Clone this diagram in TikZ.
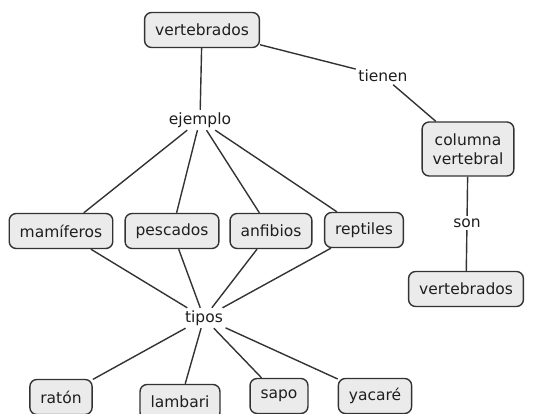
\documentclass[tikz,border=0pt]{standalone}
\usepackage{fontspec}
\setmainfont{DejaVu Sans}
\usetikzlibrary{positioning}
\definecolor{boxfill}{HTML}{EBEBEB}
\definecolor{boxline}{HTML}{333333}
\definecolor{inkgray}{HTML}{1E1E1E}
\tikzset{concept/.style={draw=boxline, fill=boxfill, rounded corners=7pt,
    line width=1.4pt, inner xsep=10.5pt, minimum height=35pt, text=inkgray}}
\tikzset{linkword/.style={inner sep=2.5pt, text=inkgray}}
\tikzset{link/.style={draw=boxline, line width=1.4pt}}

\begin{document}
\begin{tikzpicture}[x=1pt, y=-1pt, font=\fontsize{15.5}{18.5}\selectfont]
  \useasboundingbox (0,0) rectangle (536,414);
  % concepts
  \node[concept] (vert) at (202,30) {vertebrados};
  \node[concept, align=center, minimum height=54pt] (columna) at (468,149) {columna\\vertebral};
  \node[concept] (vert2) at (466,289) {vertebrados};
  \node[concept] (mam) at (61,231) {mamíferos};
  \node[concept] (pes) at (172,231) {pescados};
  \node[concept] (anf) at (271,231) {anfibios};
  \node[concept] (rep) at (364,230) {reptiles};
  \node[concept] (raton) at (61,397) {ratón};
  \node[concept] (lambari) at (180,402) {lambari};
  \node[concept] (sapo) at (279,396) {sapo};
  \node[concept] (yacare) at (375,396) {yacaré};
  % linking words
  \node[linkword] (ejemplo) at (200,120) {ejemplo};
  \node[linkword] (tienen) at (383,76) {tienen};
  \node[linkword] (tipos) at (204,318) {tipos};
  \node[linkword] (son) at (467,223) {son};
  % connectors
  \draw[link] (vert) -- (ejemplo);
  \draw[link] (vert) -- (tienen);
  \draw[link] (tienen) -- (columna);
  \draw[link] (columna) -- (son);
  \draw[link] (son) -- (vert2);
  \foreach \n in {mam,pes,anf,rep} {
    \draw[link] (ejemplo) -- (\n);
    \draw[link] (\n) -- (tipos);
  }
  \foreach \n in {raton,lambari,sapo,yacare}
    \draw[link] (tipos) -- (\n);
\end{tikzpicture}
\end{document}
